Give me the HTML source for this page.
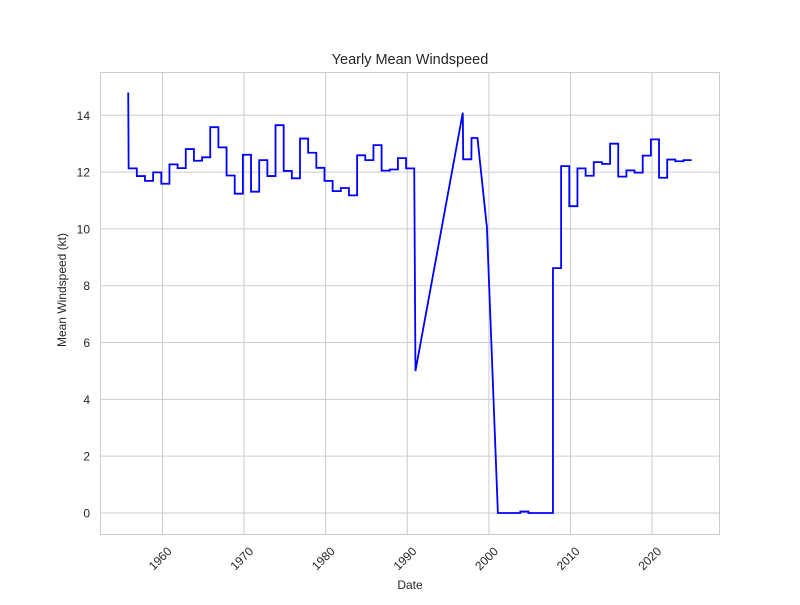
<!DOCTYPE html>
<html><head><meta charset="utf-8"><style>
body{margin:0;background:#fff;}
svg text{font-family:"Liberation Sans","DejaVu Sans",sans-serif;fill:#262626;}
</style></head><body>
<svg id="chart" width="800" height="600">
<rect x="0" y="0" width="800" height="600" fill="#fff"/>
<g id="grid"></g>
<rect x="100.5" y="72.5" width="619" height="462" fill="none" stroke="#cccccc" stroke-width="1"/>
<g id="series"></g>
<g id="axes"></g>
<text x="410" y="64" text-anchor="middle" font-size="14.5">Yearly Mean Windspeed</text>
<text x="410" y="589" text-anchor="middle" font-size="12">Date</text>
<text x="66" y="290" text-anchor="middle" font-size="12" transform="rotate(-90 66 290)">Mean Windspeed (kt)</text>
</svg>
<script>
const stepYears = [1956,1957,1958,1959,1960,1961,1962,1963,1964,1965,1966,1967,1968,1969,1970,1971,1972,1973,1974,1975,1976,1977,1978,1979,1980,1981,1982,1983,1984,1985,1986,1987,1988,1989,1990,1997,2002,2003,2004,2005,2006,2007,2008,2009,2010,2011,2012,2013,2014,2015,2016,2017,2018,2019,2020,2021,2022,2023,2024];
const stepValues = [12.13,11.86,11.69,11.99,11.59,12.27,12.14,12.81,12.4,12.52,13.58,12.87,11.88,11.24,12.61,11.31,12.42,11.86,13.65,12.04,11.78,13.18,12.68,12.15,11.69,11.33,11.44,11.18,12.59,12.42,12.95,12.05,12.09,12.49,12.13,12.45,0,0,0.05,0,0,0,8.62,12.21,10.8,12.13,11.87,12.35,12.29,13.0,11.84,12.06,11.98,12.58,13.15,11.8,12.44,12.38,12.42];
const pointYears = [1955.8,1991.0,1996.8,1997.87,1998.6,1999.7,1999.75,2001.1];
const pointValues = [14.8,5.0,14.09,13.2,13.2,10.2,10.1,0];
const yTicks = [0,2,4,6,8,10,12,14];
const xTicks = [1960,1970,1980,1990,2000,2010,2020];

const NS='http://www.w3.org/2000/svg';
const X = y => 162.5 + (y-1960)*8.16;
const Y = v => 513 - v*28.41;
const grid=document.getElementById('grid'), axes=document.getElementById('axes'), series=document.getElementById('series');
function mk(tag,attrs,parent){const e=document.createElementNS(NS,tag);for(const k in attrs)e.setAttribute(k,attrs[k]);parent.appendChild(e);return e;}

yTicks.forEach(t=>{
  const l=mk('line',{x1:100,x2:720,y1:Y(t),y2:Y(t),stroke:'#cccccc','stroke-width':1},grid);
  
  
  const tx=mk('text',{x:90,y:Y(t)+4.5,'text-anchor':'end','font-size':12},axes);
  tx.textContent=t;
  
  
});
xTicks.forEach(t=>{
  const l=mk('line',{x1:X(t),x2:X(t),y1:72,y2:535,stroke:'#cccccc','stroke-width':1},grid);
  
  
  const x=X(t)+10, y=552;
  const tx=mk('text',{x:x,y:y,'text-anchor':'end','font-size':12,transform:`rotate(-45 ${x} ${y})`},axes);
  tx.textContent=t;
  
  
});

const pts=[];
stepYears.forEach((y,i)=>{pts.push([y-0.15,stepValues[i]]);pts.push([y+0.85,stepValues[i]]);});
pointYears.forEach((y,i)=>pts.push([y,pointValues[i]]));
pts.sort((a,b)=>a[0]-b[0]);
const d=pts.map((p,i)=>(i?'L':'M')+X(p[0]).toFixed(2)+','+Y(p[1]).toFixed(2)).join(' ');
const path=mk('path',{d:d,fill:'none',stroke:'#0000ff','stroke-width':1.8,'stroke-linejoin':'miter'},series);


</script>
</body></html>
